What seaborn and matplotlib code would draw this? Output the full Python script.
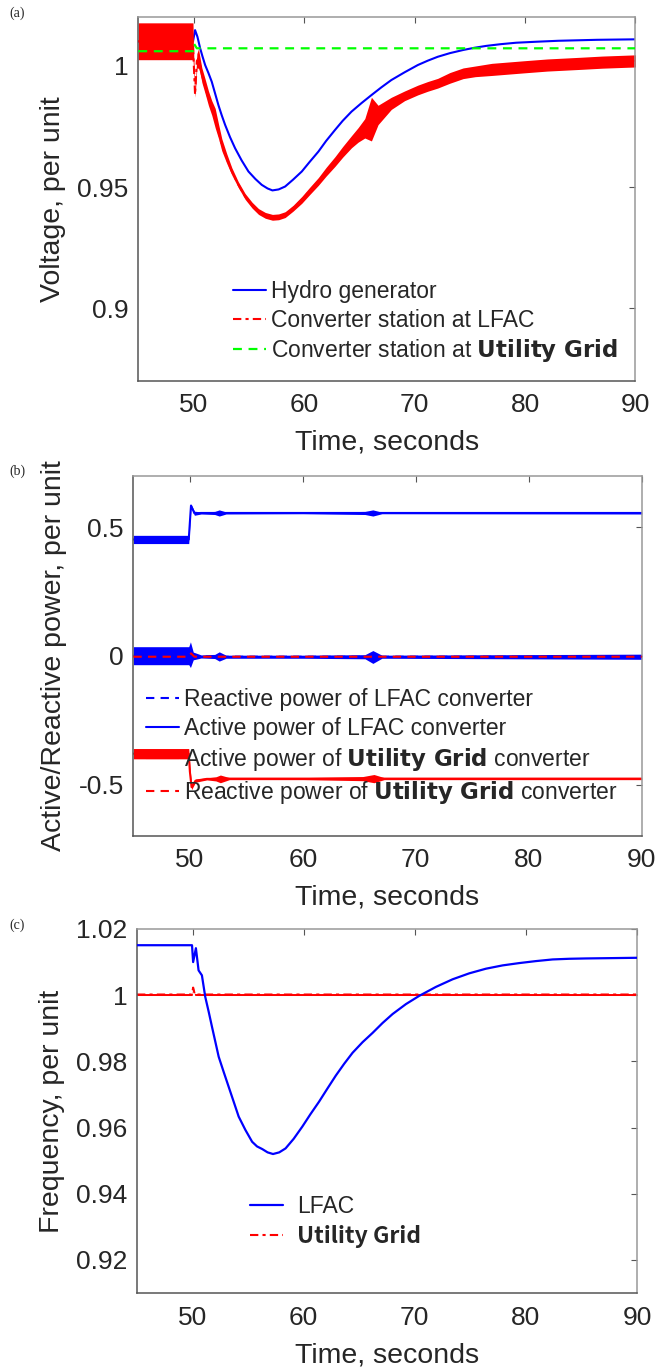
import matplotlib
matplotlib.use("Agg")
import matplotlib.pyplot as plt
import seaborn as sns

sns.set_style("white")
plt.rcParams['font.family'] = ['Liberation Sans', 'DejaVu Sans']
plt.rcParams['mathtext.fontset'] = 'custom'
plt.rcParams['mathtext.rm'] = 'Liberation Sans'
plt.rcParams['mathtext.bf'] = 'Noto Sans CJK SC:bold'

# ---- (a) voltage, per unit ----
t_hydro = [45, 49.95, 50.14, 50.35, 50.6, 50.8, 51.05, 51.35, 51.65, 51.95, 52.25, 52.55, 52.86, 53.3,
           53.76, 54.35, 54.97, 55.6, 56.17, 56.7, 57.14, 57.7, 58.29, 59.0, 59.8, 60.5, 61.3, 62.0,
           62.8, 63.5, 64.3, 65.2, 66.1, 67.0, 67.9, 69.1, 70.3, 71.2, 72.1, 73.2, 74.4, 75.4, 76.5,
           77.8, 79.2, 81.0, 83.0, 86.5, 90]
v_hydro = [1.010, 1.010, 1.0147, 1.012, 1.0072, 1.0040, 1.0003, 0.9970, 0.9934, 0.9886, 0.9838, 0.9796,
           0.9756, 0.9706, 0.966, 0.9610, 0.9564, 0.9533, 0.9509, 0.9494, 0.9486, 0.9490, 0.9502, 0.9530,
           0.9564, 0.9603, 0.9646, 0.9690, 0.9735, 0.9773, 0.9811, 0.9846, 0.9879, 0.9911, 0.9941, 0.9973,
           1.0003, 1.0021, 1.0037, 1.0052, 1.0065, 1.0074, 1.0082, 1.0089, 1.0095, 1.0099, 1.0103, 1.0107,
           1.0109]

t_lfac_v = [45, 49.95, 50.0, 50.14, 50.3, 50.45, 50.6, 50.75, 51.05, 51.35, 51.65, 51.96, 52.26, 52.56,
            53.0, 53.47, 54.05, 54.67, 55.3, 55.88, 56.5, 57.14, 57.7, 58.29, 59.0, 59.8, 60.5, 61.3,
            62.0, 62.8, 63.5, 64.3, 64.9, 65.5, 66.1, 66.7, 67.9, 69.1, 70.3, 71.2, 72.1, 73.2, 74.4,
            75.5, 77, 80, 82, 85, 87, 90]
v_lfac = [1.0101, 1.0101, 1.003, 0.988, 1.002, 1.003, 1.0000, 0.9962, 0.9915, 0.9866, 0.9826, 0.9784,
          0.9730, 0.9674, 0.9618, 0.9564, 0.9510, 0.9461, 0.9425, 0.9399, 0.9383, 0.9375, 0.9377, 0.9386,
          0.9412, 0.9447, 0.9483, 0.9523, 0.9563, 0.9605, 0.9645, 0.9687, 0.9715, 0.9742, 0.978, 0.9797,
          0.9845, 0.9876, 0.990, 0.9915, 0.9928, 0.995, 0.9969, 0.9977, 0.9985, 0.9996, 1.0003, 1.001,
          1.0015, 1.002]
hw_lfac = [0.0076, 0.0076, 0.004, 0.001, 0.003, 0.004, 0.003, 0.003, 0.003, 0.003, 0.003, 0.004,
           0.003, 0.0025, 0.002, 0.0015, 0.0012, 0.0012, 0.0012, 0.0012, 0.0012, 0.0012, 0.0012, 0.0012,
           0.0012, 0.0014, 0.0015, 0.0016, 0.0018, 0.002, 0.0022, 0.0025, 0.003, 0.004, 0.009, 0.004,
           0.0025, 0.002, 0.002, 0.002, 0.002, 0.0022, 0.0022, 0.0022, 0.0025, 0.0025, 0.0025, 0.0025,
           0.0025, 0.0025]

t_grid_v = [45, 49.95, 50.05, 50.3, 90]
v_grid = [1.0060, 1.0060, 1.009, 1.0072, 1.0072]

# ---- (b) active / reactive power ----
t_p_lfac = [45, 49.9, 50.0, 50.1, 50.4, 51, 52.2, 52.6, 53.2, 60, 65.5, 66.2, 67, 90]
p_lfac = [0.453, 0.453, 0.52, 0.585, 0.555, 0.556, 0.556, 0.556, 0.556, 0.556, 0.556, 0.556, 0.556, 0.556]
hw_p_lfac = [0.016, 0.016, 0.01, 0.005, 0.008, 0.004, 0.006, 0.012, 0.004, 0.003, 0.006, 0.012, 0.003, 0.004]

t_q_lfac = [45, 49.9, 50.05, 50.3, 51, 52.2, 52.6, 53.2, 60, 65.5, 66.2, 67, 90]
q_lfac = [0.001, 0.001, 0.005, 0.0, -0.002, -0.002, -0.002, -0.003, -0.003, -0.003, -0.004, -0.003, -0.003]
hw_q_lfac = [0.035, 0.035, 0.05, 0.015, 0.006, 0.008, 0.018, 0.006, 0.006, 0.008, 0.025, 0.006, 0.01]

t_p_grid = [45, 49.9, 50.0, 50.15, 50.5, 51.5, 52.3, 52.7, 53.5, 60, 65.3, 66.3, 67.2, 90]
p_grid = [-0.38, -0.38, -0.45, -0.51, -0.485, -0.478, -0.478, -0.478, -0.477, -0.477, -0.477, -0.477, -0.477, -0.477]
hw_p_grid = [0.02, 0.02, 0.02, 0.01, 0.006, 0.004, 0.008, 0.015, 0.004, 0.004, 0.008, 0.016, 0.004, 0.004]

t_q_grid = [45, 49.9, 50.1, 50.4, 90]
q_grid = [-0.003, -0.003, 0.01, -0.003, -0.003]

# ---- (c) frequency ----
t_f_lfac = [45, 49.95, 50.05, 50.3, 50.54, 50.84, 51.14, 51.45, 51.75, 52.05, 52.35, 52.8, 53.25, 53.7,
            54.15, 54.75, 55.36, 55.8, 56.27, 56.75, 57.24, 57.8, 58.37, 59.1, 59.88, 60.6, 61.38, 62.1,
            62.89, 63.65, 64.4, 65.3, 66.2, 67.1, 68.0, 69.2, 70.4, 71.9, 73.4, 74.9, 76.4, 77.9, 79.4,
            80.9, 82.4, 83.9, 85.4, 87.7, 90]
f_lfac = [1.0151, 1.0151, 1.010, 1.0142, 1.0075, 1.006, 0.9995, 0.995, 0.9904, 0.9859, 0.9814, 0.9768,
          0.9723, 0.9678, 0.9633, 0.9593, 0.9557, 0.9543, 0.9535, 0.9525, 0.952, 0.9525, 0.9537, 0.9566,
          0.9603, 0.9640, 0.9678, 0.9716, 0.9757, 0.9793, 0.9826, 0.9858, 0.9886, 0.9916, 0.9943, 0.9973,
          0.9998, 1.0025, 1.0048, 1.0066, 1.008, 1.009, 1.0097, 1.0103, 1.0108, 1.011, 1.0111, 1.0112, 1.0113]
t_f_grid = [45, 49.95, 50.05, 50.2, 90]
f_grid = [1.0002, 1.0002, 1.0023, 1.0002, 1.0002]
hw_f_grid = [0.0003, 0.0003, 0.0003, 0.0003, 0.0003]

x_ticks = [50, 60, 70, 80, 90]
BLUE, RED, GREEN = '#0000ff', '#ff0000', '#00ff00'
DASH = (0, (4, 3))
DASHDOT = (0, (4, 2, 1.5, 2))
BOLD_FAMILY = ['Noto Sans CJK SC', 'DejaVu Sans']


def banded(ax, t, v, hw, color, ls, label, z=2):
    lo = [a - b for a, b in zip(v, hw)]
    hi = [a + b for a, b in zip(v, hw)]
    ax.fill_between(t, lo, hi, color=color, lw=0, zorder=z)
    sns.lineplot(x=t, y=v, ax=ax, color=color, ls=ls, lw=1.5, label=label,
                 estimator=None, sort=False, zorder=z + 0.1)


def style_axes(ax, ylim, yticks, ylabels, ylabel):
    ax.set_xlim(45, 90)
    ax.set_ylim(*ylim)
    ax.set_xticks(x_ticks)
    ax.set_xticklabels([str(x) for x in x_ticks])
    ax.set_yticks(yticks)
    ax.set_yticklabels(ylabels)
    ax.tick_params(direction='in', top=True, right=True, length=4, width=0.8,
                   color='#555555', labelsize=19, labelcolor='#262626')
    ax.tick_params(axis='x', pad=9)
    ax.tick_params(axis='y', pad=7)
    for side in ['left', 'bottom']:
        ax.spines[side].set_color('#555555')
    for side in ['top', 'right']:
        ax.spines[side].set_color('#999999')
    for s in ax.spines.values():
        s.set_linewidth(1.1)
    ax.set_xlabel('Time, seconds', fontsize=20.5, color='#262626', labelpad=9)
    ax.set_ylabel(ylabel, fontsize=20.5, color='#262626', labelpad=8)


fig = plt.figure(figsize=(6.7, 13.7), dpi=100)
ax_a = fig.add_axes([0.2064, 0.7219, 0.7421, 0.2655])
ax_b = fig.add_axes([0.1991, 0.3898, 0.7587, 0.2628])
ax_c = fig.add_axes([0.2045, 0.0562, 0.7463, 0.2657])

# (a)
sns.lineplot(x=t_hydro, y=v_hydro, ax=ax_a, color=BLUE, lw=1.5, label='Hydro generator',
             estimator=None, sort=False, zorder=2)
banded(ax_a, t_lfac_v, v_lfac, hw_lfac, RED, DASHDOT, 'Converter station at LFAC', z=2.5)
sns.lineplot(x=t_grid_v, y=v_grid, ax=ax_a, color=GREEN, ls=DASH, lw=1.6,
             label=r'Converter station at $\mathbf{Utility\ Grid}$', estimator=None, sort=False,
             zorder=3)
style_axes(ax_a, (0.87, 1.02), [0.9, 0.95, 1.0], ['0.9', '0.95', '1'], 'Voltage, per unit')
ax_a.legend(loc='center left', bbox_to_anchor=(0.1905, 0.1617), frameon=False, borderpad=0,
            borderaxespad=0, fontsize=16.5, handlelength=1.45, handletextpad=0.2, labelspacing=0.25)

# (b)
banded(ax_b, t_q_lfac, q_lfac, hw_q_lfac, BLUE, DASH, 'Reactive power of LFAC converter')
banded(ax_b, t_p_lfac, p_lfac, hw_p_lfac, BLUE, '-', 'Active power of LFAC converter')
banded(ax_b, t_p_grid, p_grid, hw_p_grid, RED, '-', r'Active power of $\mathbf{Utility\ Grid}$ converter')
sns.lineplot(x=t_q_grid, y=q_grid, ax=ax_b, color=RED, ls=DASH, lw=1.5,
             label=r'Reactive power of $\mathbf{Utility\ Grid}$ converter', estimator=None, sort=False,
             zorder=3)
style_axes(ax_b, (-0.7, 0.7), [-0.5, 0, 0.5], ['-0.5', '0', '0.5'], 'Active/Reactive power, per unit')
ax_b.legend(loc='center left', bbox_to_anchor=(0.0248, 0.2472), frameon=False, borderpad=0,
            borderaxespad=0, fontsize=16.5, handlelength=1.45, handletextpad=0.2, labelspacing=0.25)

# (c)
banded(ax_c, t_f_grid, f_grid, hw_f_grid, RED, DASHDOT, 'Utility Grid')
sns.lineplot(x=t_f_lfac, y=f_lfac, ax=ax_c, color=BLUE, lw=1.6, label='LFAC',
             estimator=None, sort=False, zorder=3)
style_axes(ax_c, (0.91, 1.02), [0.92, 0.94, 0.96, 0.98, 1.0, 1.02],
           ['0.92', '0.94', '0.96', '0.98', '1', '1.02'], 'Frequency, per unit')
h, l = ax_c.get_legend_handles_labels()
leg = ax_c.legend([h[1], h[0]], [l[1], l[0]], loc='center left', bbox_to_anchor=(0.226, 0.1964),
                  frameon=False, borderpad=0, borderaxespad=0, fontsize=16.5, handlelength=1.45,
                  handletextpad=0.6, labelspacing=0.3)
leg.get_texts()[1].set_fontfamily(BOLD_FAMILY)
leg.get_texts()[1].set_fontweight('bold')

for lab, y in [('(a)', 13), ('(b)', 471), ('(c)', 925)]:
    fig.text(9.5 / 670, 1 - y / 1370, lab, family=['Liberation Serif', 'DejaVu Serif'],
             fontsize=10, va='center', ha='left')

fig.savefig('out.png', dpi=100)
